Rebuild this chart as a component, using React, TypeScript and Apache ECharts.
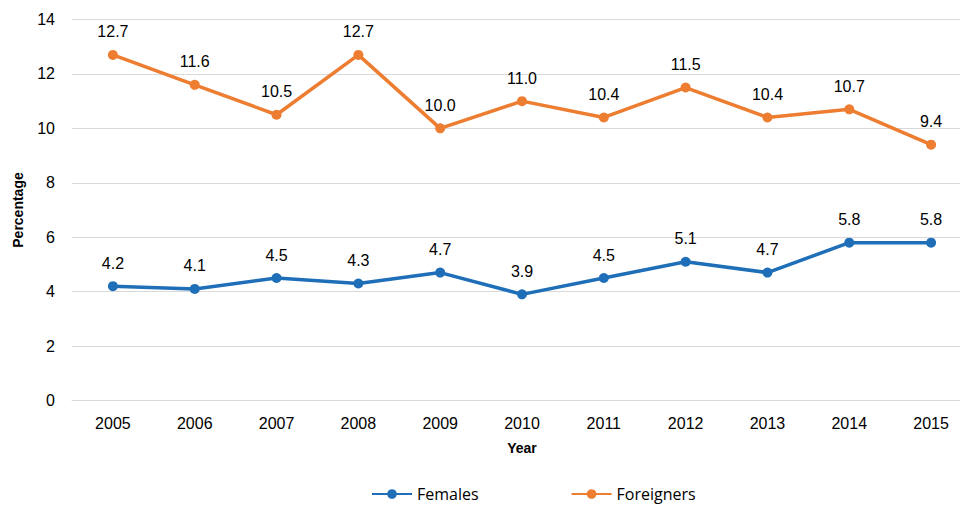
import React, { useEffect, useRef } from "react";
import * as echarts from "echarts";

const years = ["2005", "2006", "2007", "2008", "2009", "2010", "2011", "2012", "2013", "2014", "2015"];
const females = [4.2, 4.1, 4.5, 4.3, 4.7, 3.9, 4.5, 5.1, 4.7, 5.8, 5.8];
const foreigners = [12.7, 11.6, 10.5, 12.7, 10.0, 11.0, 10.4, 11.5, 10.4, 10.7, 9.4];

const BLUE = "#1F6FB8";
const ORANGE = "#ED7D31";
const FONT = "'Liberation Sans', Arial, sans-serif";

export default function App() {
  const ref = useRef<HTMLDivElement>(null);
  useEffect(() => {
    if (!ref.current) return;
    const chart = echarts.init(ref.current, undefined, { renderer: "svg" });
    const label = {
      show: true,
      position: "top" as const,
      distance: 10,
      fontFamily: FONT,
      fontSize: 16,
      color: "#000",
      formatter: (p: any) => Number(p.value).toFixed(1),
    };
    chart.setOption({
      animation: false,
      backgroundColor: "#fff",
      grid: { left: 72, top: 19.5, width: 900, bottom: 107.5, containLabel: false },
      legend: {
        left: 371,
        top: 486,
        padding: 0,
        itemWidth: 40,
        itemHeight: 12,
        itemGap: 92,
        textStyle: { fontFamily: "'Open Sans', sans-serif", fontSize: 16, lineHeight: 16, color: "#000" },
        data: ["Females", "Foreigners"],
      },
      xAxis: {
        type: "category",
        data: years,
        boundaryGap: true,
        name: "Year",
        nameLocation: "middle",
        nameGap: 40,
        nameTextStyle: { fontFamily: FONT, fontSize: 14, fontWeight: "bold", color: "#000" },
        axisLine: { lineStyle: { color: "#d9d9d9", width: 1 } },
        axisTick: { show: false },
        axisLabel: { fontFamily: FONT, fontSize: 16, color: "#000", margin: 15 },
      },
      yAxis: {
        type: "value",
        min: 0,
        max: 14,
        interval: 2,
        name: "Percentage",
        nameLocation: "middle",
        nameGap: 47,
        nameTextStyle: { fontFamily: FONT, fontSize: 14, fontWeight: "bold", color: "#000" },
        axisLine: { show: false },
        axisTick: { show: false },
        axisLabel: { fontFamily: FONT, fontSize: 16, color: "#000", margin: 17 },
        splitLine: { lineStyle: { color: "#d9d9d9", width: 1 } },
      },
      series: [
        {
          name: "Females",
          type: "line",
          data: females,
          symbol: "circle",
          symbolSize: 10,
          color: BLUE,
          lineStyle: { color: BLUE, width: 3.5 },
          itemStyle: { color: BLUE },
          label,
        },
        {
          name: "Foreigners",
          type: "line",
          data: foreigners,
          symbol: "circle",
          symbolSize: 10,
          color: ORANGE,
          lineStyle: { color: ORANGE, width: 3.5 },
          itemStyle: { color: ORANGE },
          label,
        },
      ],
    });
    return () => chart.dispose();
  }, []);
  return (
    <div style={{ position: "fixed", left: 0, top: 0, width: 960, height: 508, overflow: "hidden", background: "#fff" }}>
      <div ref={ref} style={{ width: 990, height: 508 }} />
    </div>
  );
}
